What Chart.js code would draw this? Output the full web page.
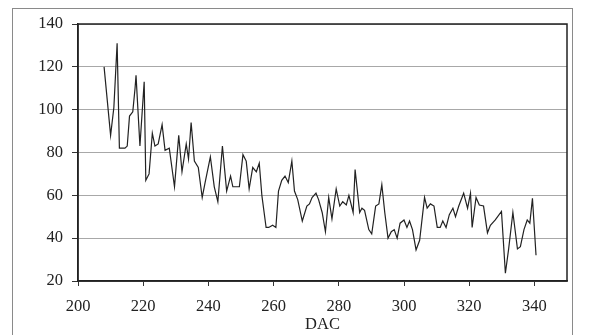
<!DOCTYPE html>
<html>
<head>
<meta charset="utf-8">
<script src="https://cdn.jsdelivr.net/npm/chart.js@4/dist/chart.umd.min.js"></script>
<style>
  body { margin: 0; background: #fff; }
  #wrap { width: 589px; height: 335px; position: relative; }
</style>
</head>
<body>
<div id="wrap"><canvas id="chart1"></canvas></div>
<script>
// values
var dac = [208, 210, 211, 212, 212.7, 214.4, 215.1, 215.8, 216.8, 217.5, 217.8, 219, 220.3, 220.8, 221.8,
  222.8, 223.6, 224.6, 225.8, 226.7, 228, 229.6, 230.9, 231.9, 233.2, 233.9, 234.7, 235.7, 236.9, 238.1,
  239, 240.6, 241.8, 242.9, 244.3, 245.6, 246.8, 247.5, 249.5, 250.6, 251.6, 252.5, 253.6, 254.7, 255.6,
  256.4, 257.7, 258.5, 259.7, 260.7, 261.5, 262.5, 263.5, 264.5, 265.6, 266.4, 267.4, 268.8, 270.2, 271,
  271.8, 273, 273.8, 274.9, 275.9, 276.9, 277.9, 279.2, 280.3, 281.2, 282.3, 283.1, 284.4, 285, 286.4,
  287.1, 287.9, 289.2, 290.1, 291.3, 292.3, 293.2, 294.1, 295.1, 296.1, 297, 297.9, 298.8, 300, 300.9,
  301.7, 302.6, 303.7, 304.8, 306.3, 307.1, 308.1, 309.2, 310.2, 311.1, 311.9, 312.9, 313.9, 315, 315.8,
  316.8, 318.3, 319.5, 320.4, 320.9, 322.1, 323.1, 324.4, 325.6, 326.5, 328, 329.9, 331.1, 332.1, 333.4,
  334.8, 335.7, 336.8, 337.8, 338.6, 339.4, 340.5];
var signal = [120, 88, 101, 131, 82, 82, 83, 97, 99, 110, 116, 83, 113, 67, 70,
  89, 83, 84, 93, 81, 82, 64, 88, 71, 84, 77, 94, 76, 73, 59,
  66, 78, 64, 57, 83, 62, 69, 64, 64, 79, 76, 63, 73, 71, 75,
  60, 45, 45, 46, 45, 62, 67, 69, 66, 76, 62, 58, 48, 55, 56,
  59, 61, 58, 52, 43, 59, 49, 63, 55, 57, 55.5, 60, 52, 72, 52,
  54, 53, 44, 42, 55, 56, 65, 52, 40, 43, 44, 40, 47, 48.5, 45,
  48, 44, 34.5, 39, 59, 54, 56, 55, 45, 45, 48, 45, 51, 54, 50,
  55, 61, 54, 61, 45, 59, 55.5, 55, 42.5, 46, 48.5, 52.5, 23.6, 35, 52,
  35, 36, 44, 48.5, 47, 58.6, 32];
var xTickValues = [200, 220, 240, 260, 280, 300, 320, 340];
var yTickValues = [20, 40, 60, 80, 100, 120, 140];

var points = [];
for (var i = 0; i < dac.length; ++i) {
  points.push({x: dac[i], y: signal[i]});
}

function setTicks(values) {
  return function(scale) {
    scale.ticks = values.map(function(v) { return {value: v}; });
  };
}

var framePlugin = {
  id: 'frames',
  beforeDraw: function(chart) {
    var ctx = chart.ctx;
    ctx.save();
    ctx.fillStyle = '#fff';
    ctx.fillRect(0, 0, chart.width, chart.height);
    ctx.strokeStyle = '#8a8a8a';
    ctx.lineWidth = 1;
    ctx.strokeRect(12.5, 8.5, 560, 340);
    ctx.restore();
  },
  afterDatasetsDraw: function(chart) {
    var a = chart.chartArea;
    var ctx = chart.ctx;
    ctx.save();
    ctx.strokeStyle = '#222';
    ctx.lineWidth = 1.5;
    ctx.strokeRect(a.left, a.top, a.right - a.left, a.bottom - a.top);
    ctx.restore();
  }
};

var font = {family: "'Liberation Serif', serif", size: 16.5};

var chart = new Chart('chart1', {
  type: 'line',
  data: {
    datasets: [
      {
        data: points,
        borderColor: '#222',
        borderWidth: 1.2,
        pointRadius: 0,
        tension: 0
      }
    ]
  },
  options: {
    responsive: true,
    maintainAspectRatio: false,
    animation: false,
    layout: {padding: {left: 0, top: 24, right: 22, bottom: 0}},
    plugins: {legend: {display: false}, tooltip: {enabled: false}},
    scales: {
      x: {
        type: 'linear',
        min: 200,
        max: 350,
        ticks: {color: '#222', font: font, padding: 11, maxRotation: 0, autoSkip: false},
        afterBuildTicks: setTicks(xTickValues),
        afterFit: function(scale) { scale.height = 54; },
        grid: {drawOnChartArea: false, tickLength: 5, tickColor: '#333'},
        border: {color: '#222', width: 1.5},
        title: {display: true, text: 'DAC', color: '#222', font: font, padding: {top: 0, bottom: 0}}
      },
      y: {
        min: 20,
        max: 140,
        ticks: {color: '#222', font: font, padding: 9, autoSkip: false},
        afterBuildTicks: setTicks(yTickValues),
        afterFit: function(scale) { scale.width = 78; },
        grid: {color: '#a8a8a8', tickLength: 6, tickColor: '#333'},
        border: {color: '#222', width: 1.5}
      }
    }
  },
  plugins: [framePlugin]
});
</script>
</body>
</html>
